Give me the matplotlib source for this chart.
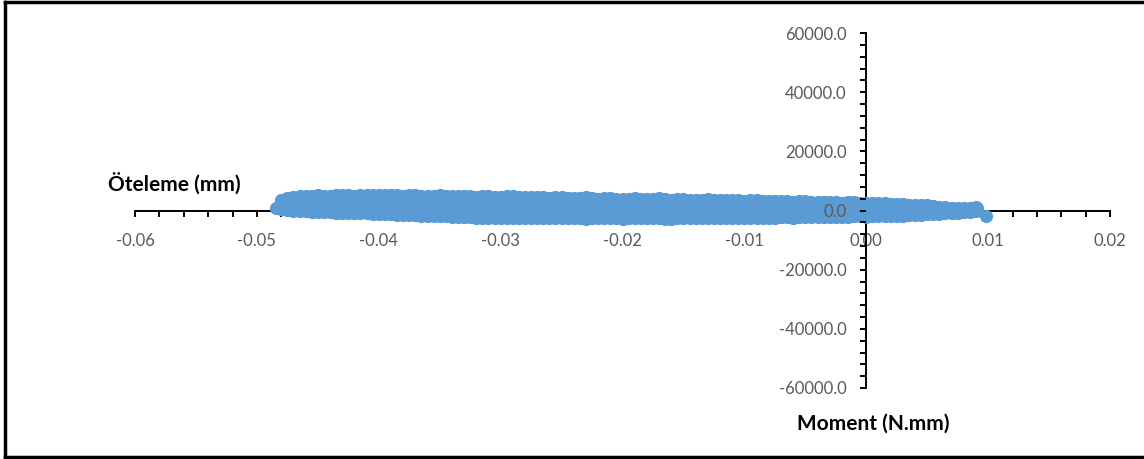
import matplotlib.pyplot as plt
from matplotlib.lines import Line2D
from matplotlib.ticker import MultipleLocator, FormatStrFormatter

plt.rcParams['font.family'] = ['Lato', 'DejaVu Sans']

# öteleme (mm) - moment (N.mm) okumalari, grafikten tahmin (bulutun ust ve alt siniri)
x_ust = [-0.048, -0.047, -0.046, -0.045, -0.044, -0.043, -0.042, -0.041, -0.040, -0.039,
         -0.038, -0.037, -0.036, -0.035, -0.034, -0.033, -0.032, -0.031, -0.030, -0.029,
         -0.028, -0.027, -0.026, -0.025, -0.024, -0.023, -0.022, -0.021, -0.020, -0.019,
         -0.018, -0.017, -0.016, -0.015, -0.014, -0.013, -0.012, -0.011, -0.010, -0.009,
         -0.008, -0.007, -0.006, -0.005, -0.004, -0.003, -0.002, -0.001, 0.000, 0.001,
         0.002, 0.003, 0.004, 0.005, 0.006, 0.007, 0.008, 0.009]
m_ust = [3600, 4600, 4900, 5100, 4900, 5200, 5000, 5300, 5100, 5400,
         5000, 5200, 4900, 5100, 4800, 4900, 4700, 4900, 4600, 5000,
         4500, 4700, 4300, 4500, 4200, 4400, 4000, 4200, 3900, 4100,
         3800, 4200, 3700, 3900, 3600, 3800, 3500, 3600, 3300, 3400,
         3200, 3300, 3000, 3100, 2900, 3000, 2700, 2800, 2600, 2500,
         2300, 2200, 1900, 1700, 1300, 1000, 800, 1100]
m_alt = [400, -100, -300, -500, -600, -800, -900, -1000, -1200, -1300,
         -1500, -1600, -1800, -1900, -2100, -2200, -2400, -2400, -2500, -2600,
         -2500, -2700, -2600, -2700, -2600, -2800, -2700, -2600, -2800, -2700,
         -2600, -2700, -2800, -2600, -2700, -2600, -2700, -2500, -2600, -2400,
         -2500, -2300, -2400, -2200, -2300, -2100, -2200, -2000, -2100, -1900,
         -2000, -1700, -1600, -1300, -1100, -800, -600, -300]

x_orta = [-0.0475, -0.0465, -0.0455, -0.0445, -0.0435, -0.0425, -0.0415, -0.0405, -0.0395, -0.0385,
          -0.0375, -0.0365, -0.0355, -0.0345, -0.0335, -0.0325, -0.0315, -0.0305, -0.0295, -0.0285,
          -0.0275, -0.0265, -0.0255, -0.0245, -0.0235, -0.0225, -0.0215, -0.0205, -0.0195, -0.0185,
          -0.0175, -0.0165, -0.0155, -0.0145, -0.0135, -0.0125, -0.0115, -0.0105, -0.0095, -0.0085,
          -0.0075, -0.0065, -0.0055, -0.0045, -0.0035, -0.0025, -0.0015, -0.0005, 0.0005, 0.0015,
          0.0025, 0.0035, 0.0045, 0.0055, 0.0065, 0.0075, 0.0085]
m_orta_ust = [4300, 4800, 5000, 5000, 5100, 5100, 5200, 5200, 5300, 5200,
              5100, 5000, 5000, 4900, 4800, 4800, 4800, 4700, 4800, 4700,
              4600, 4500, 4400, 4300, 4300, 4200, 4100, 4000, 4000, 3900,
              4000, 3900, 3800, 3700, 3700, 3600, 3500, 3400, 3400, 3300,
              3200, 3100, 3100, 3000, 2900, 2800, 2800, 2700, 2500, 2400,
              2200, 2000, 1800, 1500, 1100, 900, 900]
m_orta_alt = [100, -200, -400, -600, -700, -900, -900, -1100, -1300, -1400,
              -1500, -1700, -1900, -2000, -2100, -2300, -2400, -2500, -2500, -2600,
              -2600, -2700, -2600, -2700, -2700, -2700, -2600, -2700, -2700, -2700,
              -2600, -2800, -2700, -2600, -2700, -2600, -2600, -2500, -2500, -2400,
              -2400, -2300, -2300, -2200, -2200, -2100, -2100, -2000, -2000, -2000,
              -1900, -1600, -1500, -1200, -1000, -700, -400]

# uc noktalar
x_uc = [-0.0484, -0.0479, 0.0091, 0.0098]
m_uc = [900, 3400, 1000, -1700]

renk = '#5B9BD5'

fig = plt.figure(figsize=(11.44, 4.59), dpi=100)
ax = fig.add_axes([135 / 1144, 71 / 459, 975 / 1144, 355 / 459])

ax.fill_between(x_ust, m_ust, m_alt, color=renk, lw=0, zorder=2)
for xs, ys in [(x_ust, m_ust), (x_ust, m_alt), (x_orta, m_orta_ust), (x_orta, m_orta_alt), (x_uc, m_uc)]:
    ax.plot(xs, ys, 'o', color=renk, ms=8.5, mec=renk, zorder=2)

ax.set_xlim(-0.06, 0.02)
ax.set_ylim(-60000, 60000)

ax.spines['left'].set_position(('data', 0))
ax.spines['bottom'].set_position(('data', 0))
ax.spines['right'].set_visible(False)
ax.spines['top'].set_visible(False)
for s in ['left', 'bottom']:
    ax.spines[s].set_linewidth(1.4)
    ax.spines[s].set_zorder(1)

ax.xaxis.set_major_locator(MultipleLocator(0.01))
ax.xaxis.set_minor_locator(MultipleLocator(0.002))
ax.yaxis.set_major_locator(MultipleLocator(20000))
ax.yaxis.set_minor_locator(MultipleLocator(4000))
ax.xaxis.set_major_formatter(FormatStrFormatter('%.2f'))
ax.yaxis.set_major_formatter(FormatStrFormatter('%.1f'))

ax.tick_params(which='both', direction='out', length=4, width=1.4, color='black',
               labelcolor='#595959', labelsize=12)
ax.tick_params(axis='x', which='major', pad=12)
ax.tick_params(axis='y', which='major', pad=10)

ax.xaxis.set_zorder(0.5)
ax.yaxis.set_zorder(2.5)

fig.text(108 / 1144, 1 - 183 / 459, 'Öteleme (mm)', fontsize=15, fontweight='bold',
         ha='left', va='center')
fig.text(797 / 1144, 1 - 424 / 459, 'Moment (N.mm)', fontsize=15, fontweight='bold',
         ha='left', va='center')

# cerceve
for xy in [([5 / 1144, 1], [1 - 2 / 459, 1 - 2 / 459]),
           ([5 / 1144, 5 / 1144], [2 / 459, 1 - 2 / 459]),
           ([5 / 1144, 1], [2 / 459, 2 / 459])]:
    fig.add_artist(Line2D(xy[0], xy[1], color='black', lw=2.5))

fig.savefig('out.png', dpi=100)
